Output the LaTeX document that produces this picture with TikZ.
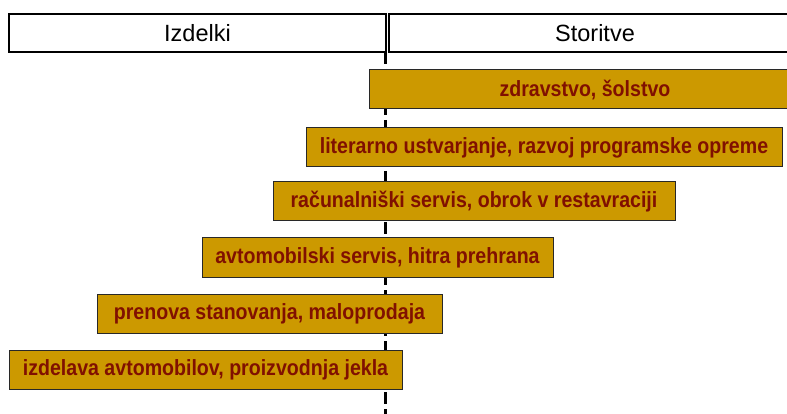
\documentclass[tikz,border=0pt]{standalone}
\usepackage{fontspec}
\setmainfont{Liberation Sans}
\newfontfamily\barfont[FakeStretch=0.89]{Liberation Sans}
\definecolor{barfill}{RGB}{204,153,0}
\definecolor{bartext}{RGB}{128,16,0}
\definecolor{barline}{RGB}{40,40,40}
\begin{document}
\begin{tikzpicture}[x=1pt,y=-1pt,
  headbox/.style={draw=black, line width=1.4pt, fill=white, minimum height=38pt,
    inner sep=0pt, font=\fontsize{23.5}{25}\selectfont},
  bar/.style={draw=barline, line width=1pt, fill=barfill, minimum height=39pt,
    inner sep=0pt, text=bartext, font=\barfont\fontsize{22}{24}\selectfont\bfseries},
  divider/.style={line width=2.2pt, dash pattern=on 12pt off 5pt}]
\useasboundingbox (0,0) rectangle (787,414);

% column headers
\node[headbox, minimum width=377pt] (izd) at (197.5,33) {Izdelki};
\node[headbox, minimum width=412pt] (sto) at (595,33) {Storitve};

% dividing line between goods and services
\coordinate (divtop) at (385.5,52);
\coordinate (divbot) at (385.5,416);
\draw[divider] (divtop) -- (divbot);

% activities, from pure services down to pure goods
\node[bar, minimum width=432pt] (b1) at (585,89.5) {zdravstvo, šolstvo};
\node[bar, minimum width=476pt] (b2) at (544,147.5) {literarno ustvarjanje, razvoj programske opreme};
\node[bar, minimum width=402pt] (b3) at (474,201.5) {računalniški servis, obrok v restavraciji};
\node[bar, minimum width=351pt] (b4) at (377.5,257.5) {avtomobilski servis, hitra prehrana};
\node[bar, minimum width=345pt] (b5) at (269.5,313.5) {prenova stanovanja, maloprodaja};
\node[bar, minimum width=393pt] (b6) at (205.5,369.5) {izdelava avtomobilov, proizvodnja jekla};
\end{tikzpicture}
\end{document}
